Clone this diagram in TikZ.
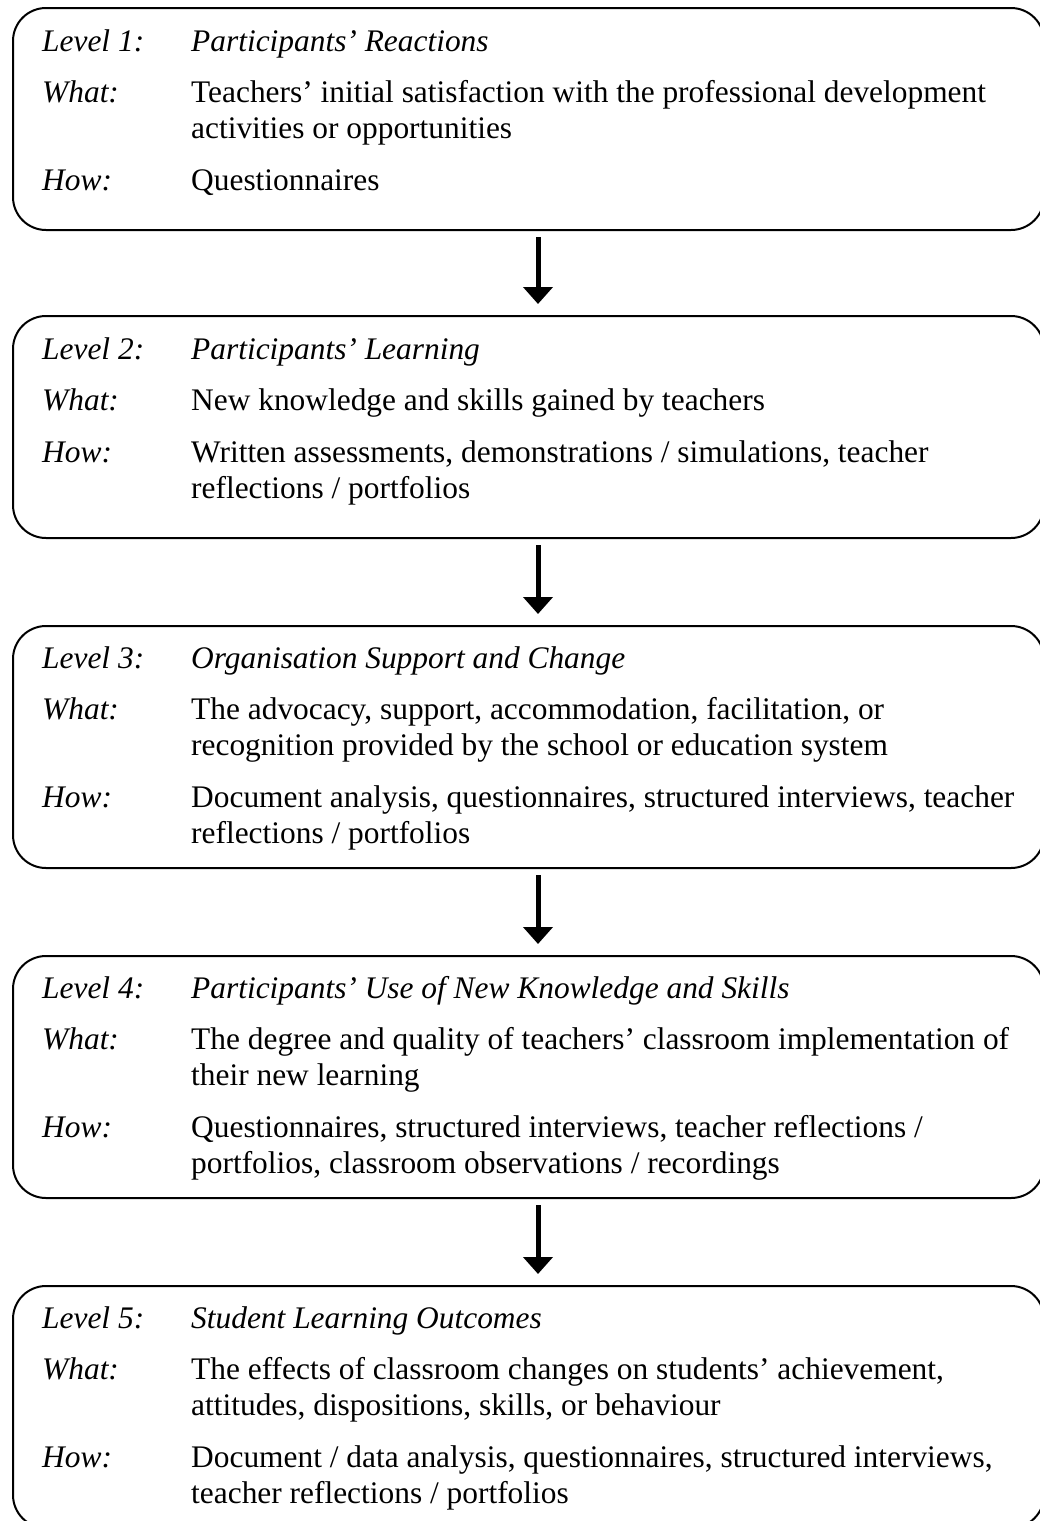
\documentclass[tikz,border=0pt]{standalone}
\usepackage{fontspec}
\setmainfont{Liberation Serif}
\usetikzlibrary{arrows.meta}
\begin{document}
\begin{tikzpicture}[x=1pt,y=-1pt,
  box/.style={draw, line width=2pt, rounded corners=33pt, inner sep=0pt, anchor=north west, minimum width=1031pt},
  lab/.style={anchor=base west, inner sep=0pt, font=\fontsize{31.4}{36}\selectfont\itshape},
  txt/.style={anchor=base west, inner sep=0pt, font=\fontsize{31.4}{36}\selectfont},
  arr/.style={line width=5pt, -{Triangle[width=29pt,length=17pt]}, shorten <=6pt, shorten >=11pt}]
\useasboundingbox (0,0) rectangle (1040,1521);
\clip (0,0) rectangle (1040,1521);
\coordinate (ax) at (538,0);
% boxes
\node[box, minimum height=222pt] (b1) at (12,7) {};
\node[box, minimum height=222pt] (b2) at (12,315) {};
\node[box, minimum height=242pt] (b3) at (12,625) {};
\node[box, minimum height=242pt] (b4) at (12,955) {};
\node[box, minimum height=242pt] (b5) at (12,1285) {};
% arrows
\draw[arr] (b1.south -| ax) -- (b2.north -| ax);
\draw[arr] (b2.south -| ax) -- (b3.north -| ax);
\draw[arr] (b3.south -| ax) -- (b4.north -| ax);
\draw[arr] (b4.south -| ax) -- (b5.north -| ax);
% box 1
\node[lab] (l1a) at (42,51) {Level 1:};
\node[lab] (t1a) at (191,51) {Participants’ Reactions};
\node[lab] (l1b) at (42,102) {What:};
\node[txt] (t1b) at (191,102) {Teachers’ initial satisfaction with the professional development};
\node[txt] (t1c) at (191,138) {activities or opportunities};
\node[lab] (l1c) at (42,190) {How:};
\node[txt] (t1d) at (191,190) {Questionnaires};
% box 2
\node[lab] (l2a) at (42,359) {Level 2:};
\node[lab] (t2a) at (191,359) {Participants’ Learning};
\node[lab] (l2b) at (42,410) {What:};
\node[txt] (t2b) at (191,410) {New knowledge and skills gained by teachers};
\node[lab] (l2c) at (42,462) {How:};
\node[txt] (t2c) at (191,462) {Written assessments, demonstrations / simulations, teacher};
\node[txt] (t2d) at (191,498) {reflections / portfolios};
% box 3
\node[lab] (l3a) at (42,668) {Level 3:};
\node[lab] (t3a) at (191,668) {Organisation Support and Change};
\node[lab] (l3b) at (42,719) {What:};
\node[txt] (t3b) at (191,719) {The advocacy, support, accommodation, facilitation, or};
\node[txt] (t3c) at (191,755) {recognition provided by the school or education system};
\node[lab] (l3c) at (42,807) {How:};
\node[txt] (t3d) at (191,807) {Document analysis, questionnaires, structured interviews, teacher};
\node[txt] (t3e) at (191,843) {reflections / portfolios};
% box 4
\node[lab] (l4a) at (42,998) {Level 4:};
\node[lab] (t4a) at (191,998) {Participants’ Use of New Knowledge and Skills};
\node[lab] (l4b) at (42,1049) {What:};
\node[txt] (t4b) at (191,1049) {The degree and quality of teachers’ classroom implementation of};
\node[txt] (t4c) at (191,1085) {their new learning};
\node[lab] (l4c) at (42,1137) {How:};
\node[txt] (t4d) at (191,1137) {Questionnaires, structured interviews, teacher reflections /};
\node[txt] (t4e) at (191,1173) {portfolios, classroom observations / recordings};
% box 5
\node[lab] (l5a) at (42,1328) {Level 5:};
\node[lab] (t5a) at (191,1328) {Student Learning Outcomes};
\node[lab] (l5b) at (42,1379) {What:};
\node[txt] (t5b) at (191,1379) {The effects of classroom changes on students’ achievement,};
\node[txt] (t5c) at (191,1415) {attitudes, dispositions, skills, or behaviour};
\node[lab] (l5c) at (42,1467) {How:};
\node[txt] (t5d) at (191,1467) {Document / data analysis, questionnaires, structured interviews,};
\node[txt] (t5e) at (191,1503) {teacher reflections / portfolios};
\end{tikzpicture}
\end{document}
